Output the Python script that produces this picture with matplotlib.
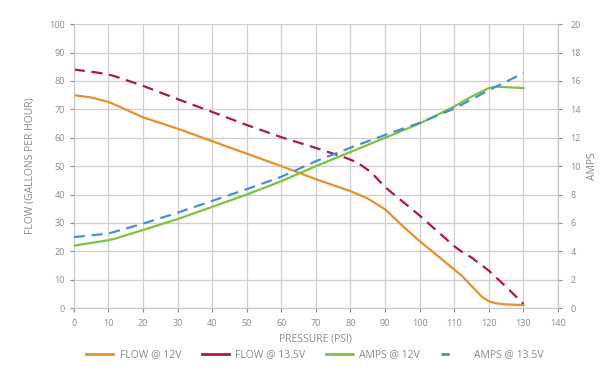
import matplotlib.pyplot as plt

plt.rcParams['font.family'] = ['Open Sans', 'DejaVu Sans']

# pressure (psi) sample points
psi = [0, 5, 10, 12, 20, 30, 40, 50, 60, 70, 80, 85, 90, 95, 100, 110, 112, 115, 118, 120, 122, 125, 130]

flow_12 = [75, 74.2, 72.6, 71.6, 67.2, 63.2, 58.8, 54.4, 50.0, 45.4, 41.2, 38.6, 34.8, 29.0, 23.6, 13.6, 11.6, 7.8, 4.0, 2.4, 1.7, 1.3, 1.1]
psi_135 = [0, 5, 10, 12, 20, 30, 40, 50, 60, 70, 78, 82, 86, 90, 100, 110, 112, 115, 120, 125, 130]
flow_135 = [84, 83.3, 82.3, 81.6, 78.3, 73.6, 69.1, 64.5, 60.2, 56.4, 53.2, 51.3, 47.8, 42.6, 32.6, 21.8, 20.0, 17.8, 13.2, 7.5, 1.5]

psi_amp = [0, 10, 12, 20, 30, 40, 50, 60, 70, 80, 90, 100, 110, 115, 120, 122, 130]
amps_12 = [4.4, 4.78, 4.9, 5.5, 6.27, 7.13, 8.0, 8.94, 10.0, 11.0, 12.0, 13.0, 14.2, 14.9, 15.5, 15.6, 15.5]
psi_amp135 = [0, 10, 20, 30, 40, 50, 60, 70, 80, 90, 100, 110, 120, 130]
amps_135 = [5.0, 5.25, 5.95, 6.72, 7.55, 8.38, 9.25, 10.35, 11.3, 12.2, 13.05, 14.05, 15.35, 16.55]

grey = '#8a8a8a'
c_orange = '#E8902A'
c_magenta = '#B01650'
c_green = '#7CC242'
c_blue = '#4A8FD0'

fig, ax = plt.subplots(figsize=(6, 3.9), dpi=100)
fig.subplots_adjust(left=0.123, right=0.93, top=0.938, bottom=0.21)

ax.set_xlim(0, 140)
ax.set_ylim(0, 100)
ax.set_xticks(range(0, 141, 10))
ax.set_yticks(range(0, 101, 10))
ax.grid(True, color='#cfcfcf', linewidth=0.9)
ax.set_axisbelow(True)

ax2 = ax.twinx()
ax2.set_ylim(0, 20)
ax2.set_yticks(range(0, 21, 2))

ax.plot(psi, flow_12, color=c_orange, lw=1.6, label='FLOW @ 12V')
ax.plot(psi_135, flow_135, color=c_magenta, lw=1.6, dashes=(5, 3), label='FLOW @ 13.5V')
ax2.plot(psi_amp, amps_12, color=c_green, lw=1.6, label='AMPS @ 12V')
ax2.plot(psi_amp135, amps_135, color=c_blue, lw=1.6, dashes=(5, 3), label='AMPS @ 13.5V')

for a in (ax, ax2):
    a.spines['top'].set_visible(False)
    for s in ('left', 'right', 'bottom'):
        a.spines[s].set_color('#c8c8c8')
    a.tick_params(colors=grey, labelsize=6.5, length=3, width=0.8)
    for t in a.get_xticklabels() + a.get_yticklabels():
        t.set_color(grey)
ax.tick_params(axis='x', pad=5)
ax2.spines['left'].set_visible(False)
ax2.tick_params(axis='y', pad=6)

ax.set_xlabel('PRESSURE (PSI)', color=grey, fontsize=7.5, labelpad=4)
ax.set_ylabel('FLOW (GALLONS PER HOUR)', color=grey, fontsize=7.5, labelpad=10)
ax2.set_ylabel('AMPS', color=grey, fontsize=7.5, rotation=90, va='center', ha='center')
ax2.yaxis.set_label_coords(1.072, 0.5)

h1 = plt.Line2D([], [], color=c_orange, lw=2)
h2 = plt.Line2D([], [], color=c_magenta, lw=2)
h3 = plt.Line2D([], [], color=c_green, lw=2)
h4 = plt.Line2D([], [], color=c_blue, lw=2, dashes=(3, 9))
leg = fig.legend([h1, h2, h3, h4], ['FLOW @ 12V', 'FLOW @ 13.5V', 'AMPS @ 12V', 'AMPS @ 13.5V'],
                 loc='center', bbox_to_anchor=(0.525, 0.09), ncol=4, frameon=False,
                 fontsize=7.5, handlelength=2.6, columnspacing=2.0, handletextpad=0.6)
for t in leg.get_texts():
    t.set_color(grey)

fig.savefig('out.png')
